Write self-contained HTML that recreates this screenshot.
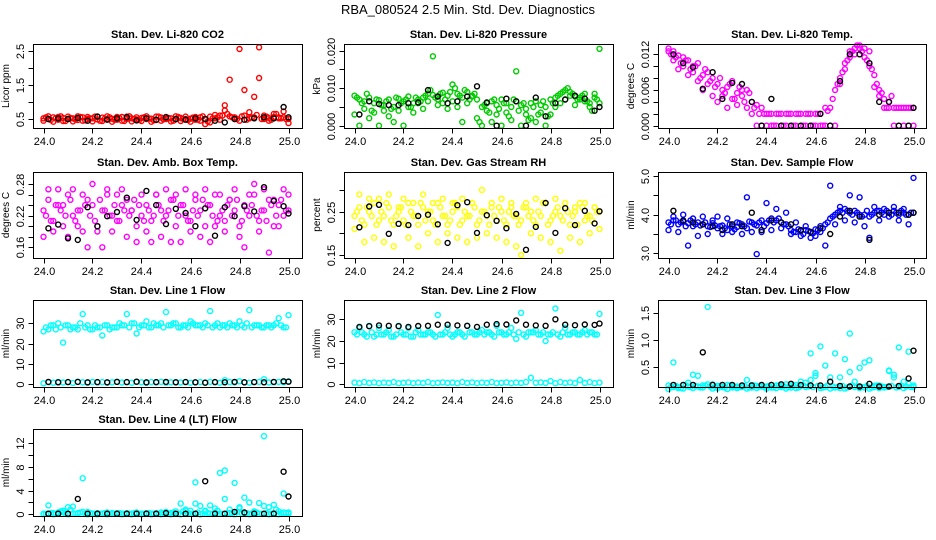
<!DOCTYPE html>
<html><head><meta charset="utf-8"><title>RBA_080524 Diagnostics</title>
<style>
html,body{margin:0;padding:0;background:#fff;}
svg{display:block;font-family:"Liberation Sans",sans-serif;}
</style></head>
<body>
<svg id="chart" width="936" height="540" viewBox="0 0 936 540" xmlns="http://www.w3.org/2000/svg">
<rect width="936" height="540" fill="#fff"/>
<text x="468" y="14" text-anchor="middle" font-size="13">RBA_080524  2.5 Min. Std. Dev. Diagnostics</text>
</svg>
<script>
const times = [24.00,24.02,24.04,24.06,24.08,24.10,24.12,24.14,24.16,24.18,
24.20,24.22,24.24,24.26,24.28,24.30,24.32,24.34,24.36,24.38,
24.40,24.42,24.44,24.46,24.48,24.50,24.52,24.54,24.56,24.58,
24.60,24.62,24.64,24.66,24.68,24.70,24.72,24.74,24.76,24.78,
24.80,24.82,24.84,24.86,24.88,24.90,24.92,24.94,24.96,24.98,25.00];
const cTimes = [24.01,24.03,24.05,24.07,24.09,24.11,24.13,24.15,24.17,24.19,
24.21,24.23,24.25,24.27,24.29,24.31,24.33,24.35,24.37,24.39,
24.41,24.43,24.45,24.47,24.49,24.51,24.53,24.55,24.57,24.59,
24.61,24.63,24.65,24.67,24.69,24.71,24.73,24.75,24.77,24.79,
24.81,24.83,24.85,24.87,24.89,24.91,24.93,24.95,24.97,24.99];
const bTimes = [24.02,24.06,24.10,24.14,24.18,24.22,24.26,24.30,24.34,24.38,24.42,24.46,24.50,24.54,24.58,24.62,24.66,24.70,24.74,24.78,24.82,24.86,24.90,24.94,24.98,25.00];
const xTicks = [24.0,24.2,24.4,24.6,24.8,25.0];

const co2A = [0.52,0.50,0.55,0.48,0.53,0.50,0.52,0.47,0.55,0.50,0.52,0.49,0.54,0.50,0.51,0.48,0.56,0.50,0.52,0.49,0.53,0.50,0.51,0.47,0.54,0.50,0.52,0.49,0.53,0.50,0.51,0.48,0.55,0.50,0.40,0.52,0.60,0.75,1.65,0.55,2.55,1.35,0.52,1.15,2.60,0.50,0.53,0.56,0.52,0.55,0.50];
const co2B = [0.45,0.58,0.42,0.56,0.44,0.57,0.43,0.58,0.45,0.56,0.43,0.57,0.44,0.58,0.42,0.56,0.45,0.57,0.43,0.55,0.44,0.58,0.42,0.57,0.45,0.56,0.43,0.58,0.44,0.57,0.42,0.56,0.45,0.35,0.57,0.62,0.48,0.90,0.58,0.50,0.45,0.60,0.70,0.55,1.70,0.60,0.45,0.65,0.55,0.72,0.38];
const co2C = [0.55,0.47,0.52,0.58,0.44,0.53,0.49,0.56,0.46,0.52,0.57,0.45,0.51,0.55,0.48,0.53,0.44,0.58,0.50,0.47,0.55,0.52,0.46,0.57,0.49,0.53,0.45,0.56,0.50,0.47,0.54,0.48,0.58,0.43,0.52,0.55,0.60,0.65,0.55,0.50,0.58,0.48,0.55,0.62,0.50,0.57,0.48,0.65,0.52,0.50];
const co2K = [0.50,0.52,0.50,0.53,0.45,0.57,0.48,0.52,0.55,0.46,0.52,0.48,0.55,0.50,0.48,0.52,0.50,0.45,0.40,0.50,0.48,0.52,0.55,0.52,0.85,0.55];

const presA = [0.0080,0.0070,0.0065,0.0075,0.0060,0.0068,0.0055,0.0070,0.0050,0.0072,0.0065,0.0078,0.0060,0.0070,0.0075,0.0085,0.0082,0.0070,0.0088,0.0080,0.0110,0.0085,0.0075,0.0090,0.0078,0.0070,0.0050,0.0060,0.0065,0.0055,0.0070,0.0060,0.0050,0.0065,0.0055,0.0045,0.0060,0.0065,0.0055,0.0050,0.0070,0.0075,0.0085,0.0095,0.0080,0.0078,0.0070,0.0085,0.0060,0.0075,0.0060];
const presB = [0.0030,0.0000,0.0045,0.0020,0.0035,0.0000,0.0040,0.0025,0.0010,0.0040,0.0000,0.0050,0.0035,0.0060,0.0045,0.0065,0.0185,0.0055,0.0060,0.0045,0.0065,0.0050,0.0010,0.0060,0.0080,0.0020,0.0000,0.0040,0.0010,0.0030,0.0000,0.0035,0.0015,0.0145,0.0000,0.0030,0.0020,0.0010,0.0035,0.0000,0.0030,0.0050,0.0060,0.0070,0.0090,0.0055,0.0075,0.0065,0.0050,0.0085,0.0205];
const presC = [0.0075,0.0060,0.0085,0.0040,0.0070,0.0055,0.0065,0.0045,0.0075,0.0060,0.0070,0.0050,0.0075,0.0065,0.0080,0.0095,0.0075,0.0085,0.0070,0.0090,0.0100,0.0080,0.0095,0.0070,0.0085,0.0010,0.0055,0.0035,0.0070,0.0045,0.0060,0.0025,0.0070,0.0040,0.0060,0.0015,0.0050,0.0030,0.0065,0.0025,0.0060,0.0080,0.0090,0.0100,0.0085,0.0070,0.0080,0.0065,0.0040,0.0070];
const presK = [0.0030,0.0065,0.0058,0.0055,0.0055,0.0060,0.0062,0.0095,0.0078,0.0060,0.0065,0.0078,0.0105,0.0062,0.0000,0.0072,0.0065,0.0000,0.0075,0.0025,0.0060,0.0070,0.0080,0.0072,0.0040,0.0050];

const tempA = [0.0130,0.0125,0.0118,0.0115,0.0110,0.0100,0.0105,0.0085,0.0090,0.0080,0.0070,0.0060,0.0065,0.0075,0.0055,0.0050,0.0060,0.0040,0.0035,0.0030,0.0020,0.0020,0.0020,0.0020,0.0020,0.0020,0.0020,0.0020,0.0020,0.0020,0.0020,0.0020,0.0030,0.0030,0.0060,0.0080,0.0095,0.0115,0.0130,0.0130,0.0130,0.0125,0.0085,0.0060,0.0045,0.0030,0.0030,0.0030,0.0030,0.0030,0.0030];
const tempB = [0.0125,0.0110,0.0095,0.0100,0.0085,0.0090,0.0075,0.0060,0.0070,0.0050,0.0040,0.0050,0.0030,0.0045,0.0035,0.0060,0.0030,0.0020,0.0000,0.0000,0.0000,0.0000,0.0000,0.0000,0.0000,0.0000,0.0000,0.0000,0.0000,0.0000,0.0000,0.0000,0.0000,0.0000,0.0000,0.0070,0.0105,0.0125,0.0120,0.0135,0.0115,0.0100,0.0065,0.0050,0.0030,0.0040,0.0000,0.0000,0.0000,0.0000,0.0000];
const tempC = [0.0120,0.0115,0.0105,0.0110,0.0095,0.0100,0.0080,0.0095,0.0075,0.0065,0.0080,0.0055,0.0070,0.0045,0.0065,0.0040,0.0055,0.0030,0.0020,0.0020,0.0020,0.0000,0.0020,0.0000,0.0020,0.0000,0.0020,0.0000,0.0020,0.0000,0.0020,0.0000,0.0025,0.0045,0.0070,0.0090,0.0110,0.0125,0.0135,0.0125,0.0110,0.0095,0.0070,0.0055,0.0030,0.0050,0.0030,0.0030,0.0030,0.0030];
const tempK = [0.0120,0.0105,0.0098,0.0062,0.0090,0.0045,0.0072,0.0070,0.0040,0.0000,0.0045,0.0000,0.0000,0.0000,0.0000,0.0020,0.0000,0.0075,0.0120,0.0120,0.0105,0.0040,0.0040,0.0000,0.0000,0.0030];

const ambA = [0.23,0.25,0.21,0.24,0.20,0.26,0.22,0.23,0.19,0.25,0.24,0.20,0.23,0.26,0.22,0.21,0.24,0.25,0.23,0.20,0.22,0.24,0.21,0.26,0.23,0.22,0.25,0.20,0.24,0.22,0.21,0.25,0.23,0.20,0.24,0.26,0.22,0.21,0.25,0.23,0.20,0.24,0.22,0.26,0.21,0.23,0.25,0.20,0.24,0.22,0.23];
const ambB = [0.18,0.27,0.19,0.27,0.24,0.18,0.27,0.20,0.26,0.16,0.28,0.19,0.16,0.27,0.19,0.26,0.27,0.18,0.23,0.17,0.26,0.19,0.17,0.26,0.18,0.27,0.17,0.26,0.17,0.27,0.19,0.26,0.18,0.27,0.17,0.20,0.26,0.19,0.25,0.27,0.18,0.16,0.26,0.28,0.19,0.27,0.15,0.25,0.20,0.27,0.26];
const ambC = [0.22,0.21,0.24,0.23,0.22,0.25,0.21,0.23,0.24,0.22,0.21,0.25,0.23,0.22,0.24,0.21,0.23,0.22,0.25,0.24,0.21,0.23,0.22,0.24,0.21,0.23,0.25,0.22,0.24,0.21,0.23,0.22,0.25,0.24,0.22,0.21,0.23,0.24,0.22,0.25,0.21,0.23,0.24,0.22,0.23,0.21,0.24,0.22,0.25,0.23];
const ambK = [0.196,0.203,0.177,0.174,0.236,0.200,0.219,0.227,0.254,0.212,0.267,0.240,0.204,0.233,0.225,0.200,0.234,0.182,0.236,0.219,0.238,0.228,0.274,0.248,0.238,0.224];

const rhA = [0.24,0.26,0.22,0.25,0.27,0.23,0.24,0.26,0.22,0.25,0.23,0.27,0.24,0.22,0.26,0.25,0.23,0.27,0.24,0.22,0.25,0.26,0.23,0.24,0.27,0.22,0.25,0.24,0.26,0.23,0.25,0.22,0.27,0.24,0.23,0.26,0.25,0.22,0.24,0.27,0.23,0.25,0.24,0.26,0.22,0.25,0.27,0.23,0.24,0.26,0.25];
const rhB = [0.21,0.29,0.18,0.28,0.19,0.28,0.18,0.29,0.17,0.26,0.28,0.19,0.27,0.17,0.29,0.20,0.27,0.18,0.28,0.20,0.27,0.19,0.28,0.18,0.27,0.19,0.30,0.20,0.27,0.19,0.28,0.18,0.26,0.17,0.15,0.27,0.20,0.28,0.19,0.27,0.18,0.28,0.16,0.27,0.19,0.26,0.18,0.27,0.20,0.26,0.21];
const rhC = [0.25,0.23,0.26,0.24,0.22,0.25,0.27,0.23,0.24,0.26,0.22,0.25,0.24,0.27,0.23,0.25,0.22,0.26,0.24,0.23,0.27,0.22,0.25,0.24,0.26,0.23,0.25,0.22,0.24,0.26,0.23,0.25,0.24,0.22,0.26,0.24,0.23,0.25,0.27,0.22,0.24,0.26,0.23,0.25,0.24,0.22,0.26,0.24,0.23,0.25];
const rhK = [0.214,0.262,0.266,0.199,0.222,0.219,0.240,0.243,0.221,0.178,0.265,0.272,0.201,0.242,0.229,0.212,0.245,0.162,0.215,0.270,0.201,0.258,0.219,0.252,0.223,0.251];

const flowA = [3.80,3.85,3.75,3.82,3.78,3.70,3.80,3.75,3.70,3.78,3.65,3.72,3.60,3.70,3.68,3.75,3.65,3.80,3.72,3.85,3.78,3.90,3.85,3.80,3.75,3.60,3.55,3.58,3.60,3.55,3.62,3.70,3.75,3.90,4.00,4.10,4.15,4.05,4.10,4.00,4.00,3.95,4.05,4.10,4.00,4.05,4.10,4.00,4.05,4.00,4.05];
const flowB = [3.60,3.95,3.55,4.00,3.20,3.90,3.45,3.95,3.50,3.85,3.95,3.50,3.90,3.55,3.80,3.50,4.45,3.55,2.98,3.55,4.30,3.60,4.15,3.65,4.05,3.50,3.80,3.45,3.70,3.40,3.45,3.55,3.20,4.75,3.75,4.20,3.85,4.50,3.80,4.45,3.70,3.40,4.20,3.85,4.15,3.95,4.20,3.85,4.15,3.75,4.95];
const flowC = [3.75,3.85,3.80,3.70,3.85,3.75,3.72,3.80,3.68,3.72,3.70,3.65,3.75,3.62,3.78,3.70,3.82,3.75,3.80,3.70,3.85,3.80,3.90,3.75,3.70,3.55,3.62,3.50,3.58,3.52,3.60,3.65,3.80,3.95,4.05,4.05,4.10,4.00,4.05,3.95,4.10,4.00,4.10,4.05,4.10,4.00,4.05,4.10,4.00,4.05];
const flowK = [4.10,3.85,3.80,3.75,3.70,3.60,3.75,3.70,4.05,3.60,3.85,3.80,3.75,3.60,3.55,3.65,3.50,3.95,4.10,3.95,3.35,4.00,4.05,4.05,4.00,4.05];

const l1A = [26,27,29,30,20.5,29,28,27,34.5,29,27,28,24,29,28,28,29,34.5,30,25,29,31,28,29,30,35.5,29,30,28,29,31,29,29,30,36,29,28,29,30,29,31,28,36.5,29,29,28,29,29,32.5,28,34];
const l1B = [0.5,1.0,0.8,1.2,0.9,1.1,0.7,1.3,1.0,0.8,1.2,0.9,1.1,0.8,1.0,1.3,0.9,1.1,0.8,1.2,1.0,0.7,1.1,0.9,1.2,0.8,1.0,1.1,0.9,1.2,0.8,1.0,1.1,0.9,1.2,1.0,0.8,2.0,1.1,0.9,1.5,1.0,0.8,1.1,1.2,2.5,0.9,1.0,1.2,1.0,1.5];
const l1C = [28,29,27,28,29,27,28,30,28,27,29,28,29,27,28,30,29,28,30,28,29,28,30,29,28,29,30,28,29,28,30,29,28,29,28,30,29,28,29,28,29,30,28,29,28,29,28,30,29,28];
const l1K = [1.2,1.0,1.1,1.2,1.0,1.1,1.0,1.2,1.1,1.3,1.0,1.1,1.2,1.0,1.1,1.0,0.8,1.1,1.0,1.2,1.0,1.1,1.0,1.2,1.5,1.3];

const l2A = [24,26,23,27,22,26,23,25,22,27,23,26,22,25,23,24,23,32,23,26,22,24,23,27,24,23,25,24,23,27,24,23,26,21,33,22,24,25,23,20,23,35,22,26,23,24,23,25,24,23,32.5];
const l2B = [0.8,0.5,1.0,0.6,0.9,0.5,0.8,0.6,1.0,0.5,0.7,0.9,0.5,0.8,0.6,1.0,0.5,0.7,0.9,0.6,0.8,0.5,1.0,0.6,0.9,0.5,0.8,0.6,1.0,0.5,0.7,0.9,0.5,0.8,0.6,1.0,3.0,0.7,0.9,0.6,1.5,0.5,1.0,0.6,0.9,0.5,2.0,0.6,1.0,0.5,0.8];
const l2C = [23,24,22,24,23,23,24,22,23,24,23,22,24,23,23,24,22,23,24,23,23,24,22,24,23,24,23,24,22,24,23,24,23,24,23,24,24,23,24,23,24,23,24,23,24,23,24,23,24,23];
const l2K = [26.5,26.8,27.2,27.0,26.8,26.5,26.9,27.0,27.5,27.5,27.2,27.0,26.5,27.5,27.8,27.6,29.5,27.5,27.2,27.0,30.0,27.5,27.3,27.6,27.4,28.0];

const l3A = [0.15,0.58,0.12,0.16,0.20,0.35,0.13,0.15,1.62,0.17,0.14,0.12,0.16,0.14,0.13,0.15,0.25,0.16,0.14,0.15,0.13,0.16,0.15,0.14,0.17,0.15,0.16,0.14,0.20,0.75,0.38,0.88,0.52,0.30,0.75,0.30,0.64,1.12,0.22,0.48,0.58,0.62,0.14,0.15,0.12,0.43,0.30,0.86,0.22,0.78,0.15];
const l3B = [0.08,0.12,0.10,0.09,0.13,0.10,0.33,0.11,0.17,0.09,0.10,0.12,0.08,0.11,0.10,0.12,0.09,0.11,0.10,0.13,0.09,0.11,0.10,0.12,0.09,0.11,0.10,0.22,0.12,0.25,0.33,0.10,0.12,0.09,0.11,0.10,0.09,0.40,0.12,0.10,0.11,0.09,0.12,0.10,0.11,0.42,0.35,0.12,0.10,0.18,0.12];
const l3C = [0.12,0.14,0.10,0.15,0.12,0.14,0.11,0.15,0.13,0.12,0.14,0.11,0.15,0.13,0.12,0.14,0.11,0.15,0.13,0.12,0.14,0.11,0.15,0.13,0.12,0.14,0.11,0.15,0.13,0.12,0.14,0.11,0.15,0.13,0.12,0.14,0.11,0.15,0.13,0.12,0.14,0.11,0.15,0.13,0.12,0.14,0.11,0.15,0.13,0.12];
const l3K = [0.16,0.16,0.16,0.77,0.16,0.16,0.16,0.15,0.15,0.16,0.16,0.17,0.18,0.16,0.15,0.15,0.22,0.14,0.13,0.13,0.18,0.13,0.13,0.14,0.28,0.80];

const l4A = [0.1,1.5,0.2,0.3,0.6,1.2,0.1,0.2,6.1,0.4,0.1,0.2,0.1,0.3,0.1,0.2,0.1,0.2,0.1,0.3,0.1,0.2,0.1,0.2,0.3,0.4,0.2,0.5,1.8,0.8,0.6,5.4,1.4,0.5,1.5,1.0,7.0,2.6,0.8,5.3,1.0,2.8,2.0,0.5,1.9,13.2,1.2,1.6,0.5,3.5,0.3];
const l4B = [0.0,0.1,0.0,0.1,0.3,0.0,1.3,0.1,0.4,0.0,0.1,0.0,0.1,0.0,0.2,0.1,0.0,0.1,0.0,0.1,0.0,0.1,0.0,0.1,0.0,0.1,0.0,0.1,0.0,0.6,0.1,1.8,0.0,0.6,0.1,0.3,0.1,7.4,0.2,0.0,1.2,0.1,0.0,0.3,0.1,1.4,0.0,0.2,0.0,0.3,0.1];
const l4C = [0.1,0.2,0.1,0.5,0.1,0.8,0.1,0.3,0.1,0.2,0.1,0.1,0.2,0.1,0.1,0.2,0.1,0.1,0.2,0.1,0.1,0.2,0.1,0.1,0.2,0.1,0.3,0.1,0.5,0.2,0.1,0.3,0.1,0.2,0.1,0.6,0.1,0.2,0.1,0.4,0.1,0.2,0.1,0.3,0.1,0.2,0.1,0.8,0.1,0.2];
const l4K = [0.1,0.1,0.1,2.6,0.1,0.1,0.1,0.1,0.1,0.1,0.1,0.1,0.2,0.1,0.1,0.1,5.6,0.1,0.1,0.4,0.3,0.1,0.1,0.1,7.2,3.0];

const co2Ticks=[0.5,1.0,1.5,2.0,2.5], co2Labels=["0.5","","1.5","","2.5"];
const presTicks=[0,0.005,0.010,0.015,0.020], presLabels=["0.000","","0.010","","0.020"];
const tempTicks=[0,0.002,0.004,0.006,0.008,0.010,0.012], tempLabels=["0.000","","","0.006","","","0.012"];
const ambTicks=[0.16,0.18,0.20,0.22,0.24,0.26,0.28], ambLabels=["0.16","","","0.22","","","0.28"];
const rhTicks=[0.15,0.20,0.25,0.30], rhLabels=["0.15","","0.25",""];
const flowTicks=[3.0,3.5,4.0,4.5,5.0], flowLabels=["3.0","","4.0","","5.0"];
const l1Ticks=[0,10,20,30], l1Labels=["0","10","20","30"];
const l2Ticks=[0,10,20,30], l2Labels=["0","10","20","30"];
const l3Ticks=[0.5,1.0,1.5], l3Labels=["0.5","1.0","1.5"];
const l4Ticks=[0,2,4,6,8,10,12], l4Labels=["0","","4","","8","","12"];

const NS="http://www.w3.org/2000/svg";
const svg=document.getElementById('chart');
function mk(tag,attrs,parent){const e=document.createElementNS(NS,tag);for(const k in attrs)e.setAttribute(k,attrs[k]);(parent||svg).appendChild(e);return e;}

const colL=[33,344,658], colR=[302,613,926], rowT=[44,172,300,429], rowB=[128,258,387,516];
const panels=[
 {key:'co2',title:'Stan. Dev. Li-820 CO2',yl:'Licor ppm',c:0,r:0,col:'#ff0000',A:co2A,B:co2B,C:co2C,K:co2K,t:co2Ticks,tl:co2Labels,v0:0.5,p0:119,v1:2.5,p1:50.7},
 {key:'pressure',title:'Stan. Dev. Li-820 Pressure',yl:'kPa',c:1,r:0,col:'#00cc00',A:presA,B:presB,C:presC,K:presK,t:presTicks,tl:presLabels,v0:0,p0:125.7,v1:0.02,p1:50.7},
 {key:'temp',title:'Stan. Dev. Li-820 Temp.',yl:'degrees C',c:2,r:0,col:'#ff00ff',A:tempA,B:tempB,C:tempC,K:tempK,t:tempTicks,tl:tempLabels,v0:0,p0:125.7,v1:0.012,p1:54.3},
 {key:'amb-box-temp',title:'Stan. Dev. Amb. Box Temp.',yl:'degrees C',c:0,r:1,col:'#ff00ff',A:ambA,B:ambB,C:ambC,K:ambK,t:ambTicks,tl:ambLabels,v0:0.16,p0:247.3,v1:0.28,p1:184},
 {key:'gas-rh',title:'Stan. Dev. Gas Stream RH',yl:'percent',c:1,r:1,col:'#ffff00',A:rhA,B:rhB,C:rhC,K:rhK,t:rhTicks,tl:rhLabels,v0:0.15,p0:255,v1:0.25,p1:211.7},
 {key:'sample-flow',title:'Stan. Dev. Sample Flow',yl:'ml/min',c:2,r:1,col:'#0000ff',A:flowA,B:flowB,C:flowC,K:flowK,t:flowTicks,tl:flowLabels,v0:3,p0:253.3,v1:5,p1:176},
 {key:'line1-flow',title:'Stan. Dev. Line 1 Flow',yl:'ml/min',c:0,r:2,col:'#00ffff',A:l1A,B:l1B,C:l1C,K:l1K,t:l1Ticks,tl:l1Labels,v0:0,p0:384.3,v1:30,p1:323.3},
 {key:'line2-flow',title:'Stan. Dev. Line 2 Flow',yl:'ml/min',c:1,r:2,col:'#00ffff',A:l2A,B:l2B,C:l2C,K:l2K,t:l2Ticks,tl:l2Labels,v0:0,p0:384.3,v1:30,p1:319.3},
 {key:'line3-flow',title:'Stan. Dev. Line 3 Flow',yl:'ml/min',c:2,r:2,col:'#00ffff',A:l3A,B:l3B,C:l3C,K:l3K,t:l3Ticks,tl:l3Labels,v0:0.5,p0:366.7,v1:1.5,p1:313.3},
 {key:'line4-flow',title:'Stan. Dev. Line 4 (LT) Flow',yl:'ml/min',c:0,r:3,col:'#00ffff',A:l4A,B:l4B,C:l4C,K:l4K,t:l4Ticks,tl:l4Labels,v0:0,p0:514.3,v1:12,p1:443.3}
];

panels.forEach(p=>{
  const L=colL[p.c], R=colR[p.c], T=rowT[p.r], B=rowB[p.r];
  const x=v=>L+10.5+(v-24)*245;
  const y=v=>p.p0+(v-p.v0)*(p.p1-p.p0)/(p.v1-p.v0);
  const g=mk('g',{});
  
  
  const tt=mk('text',{x:(L+R)/2,y:T-6,'text-anchor':'middle','font-size':'11','font-weight':'bold'},g);
  tt.textContent=p.title;
  
  
  const pts=mk('g',{fill:'none','stroke-width':'1.4'},g);
  
  
  [[p.A,times,p.col],[p.C,cTimes,p.col],[p.B,times,p.col],[p.K,bTimes,'#000']].forEach(s=>{
    s[0].forEach((v,i)=>{
      const c=mk('circle',{cx:x(s[1][i]).toFixed(1),cy:y(v).toFixed(1),r:2.5,stroke:s[2]},pts);
      
      
    });
  });
  const box=mk('rect',{x:L+0.5,y:T+0.5,width:R-L,height:B-T,fill:'none',stroke:'#000','stroke-width':1},g);
  
  
  const xa=mk('g',{},g);
  
  
  xTicks.forEach(v=>{
    const px=Math.round(x(v))+0.5;
    mk('line',{x1:px,x2:px,y1:B+0.5,y2:B+5.5,stroke:'#000'},xa);
    const t=mk('text',{x:px,y:B+17,'text-anchor':'middle','font-size':'11'},xa);
    t.textContent=v.toFixed(1);
  });
  const ya=mk('g',{},g);
  
  
  p.t.forEach((v,i)=>{
    const py=Math.round(y(v))+0.5;
    mk('line',{x1:L+0.5,x2:L-4.5,y1:py,y2:py,stroke:'#000'},ya);
    if(p.tl[i]){
      const t=mk('text',{x:L-9,y:py,'text-anchor':'middle','font-size':'11',transform:`rotate(-90 ${L-9} ${py})`},ya);
      t.textContent=p.tl[i];
    }
  });
  const yt=mk('text',{x:L-24,y:(T+B)/2,'text-anchor':'middle','font-size':'10',transform:`rotate(-90 ${L-24} ${(T+B)/2})`},g);
  yt.textContent=p.yl;
  
  
});
</script>
</body></html>
